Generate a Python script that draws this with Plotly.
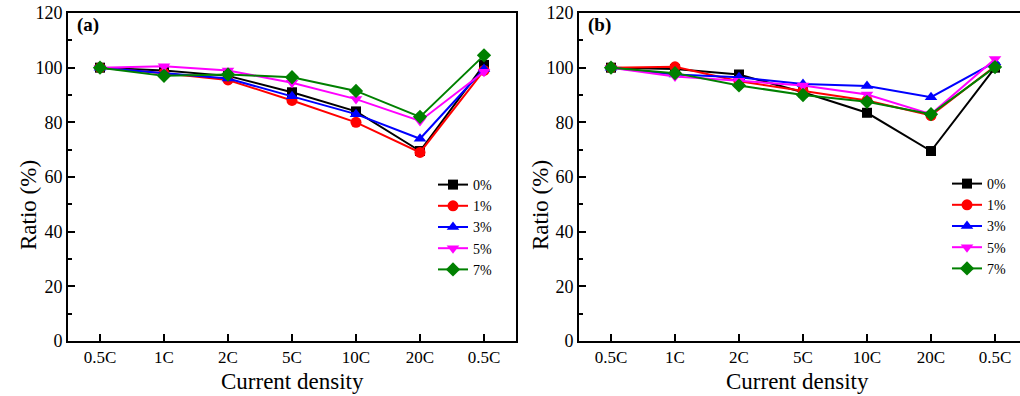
import plotly.graph_objects as go

categories = ["0.5C", "1C", "2C", "5C", "10C", "20C", "0.5C"]
series_names = ["0%", "1%", "3%", "5%", "7%"]

a_0 = [100, 99, 97, 91, 84, 69.5, 101]
a_1 = [100, 98, 95.5, 88, 80, 69, 99]
a_3 = [100, 98, 96, 89.5, 83, 74, 99.5]
a_5 = [100, 100.5, 99, 94.5, 88.5, 80.5, 98.5]
a_7 = [100, 97, 97.5, 96.5, 91.5, 82, 104.5]

b_0 = [100, 99.5, 97.5, 91, 83.5, 69.5, 100]
b_1 = [100, 100.3, 95, 91.5, 88, 82.5, 100.5]
b_3 = [100, 97.5, 96.5, 94, 93.3, 89.2, 102]
b_5 = [100, 96.8, 95.2, 93.5, 90.2, 83, 103.2]
b_7 = [100, 98, 93.5, 90, 87.5, 83, 100.2]

colors = ["#000000", "#ff0000", "#0000ff", "#ff00ff", "#008000"]
symbols = ["square", "circle", "triangle-up", "triangle-down", "diamond"]
msizes = [10, 11, 11, 11, 11]

FONT = '"Liberation Serif", "Times New Roman", serif'
W, H = 1020, 396

xpos = list(range(len(categories)))

fig = go.Figure()
for panel, data, xa, ya, leg in [
    ("a", [a_0, a_1, a_3, a_5, a_7], "x", "y", "legend"),
    ("b", [b_0, b_1, b_3, b_5, b_7], "x2", "y2", "legend2"),
]:
    for name, vals, c, s, ms in zip(series_names, data, colors, symbols, msizes):
        fig.add_trace(go.Scatter(
            x=xpos, y=vals, name=name, mode="lines+markers",
            line=dict(color=c, width=2),
            marker=dict(symbol=s, size=ms, color=c),
            xaxis=xa, yaxis=ya, legend=leg, cliponaxis=False,
        ))

ydom = [(H - 341) / H, (H - 13) / H]
axfont = dict(family=FONT, size=17, color="black")

def xaxis_cfg(domain, rng, mirror):
    return dict(
        domain=domain, range=rng, tickmode="array", tickvals=xpos, ticktext=categories,
        ticks="inside", ticklen=7, tickwidth=1.5, tickcolor="black",
        showline=True, linecolor="black", linewidth=2, mirror=mirror,
        showgrid=False, zeroline=False, tickfont=axfont, automargin=False,
    )

def yaxis_cfg(domain, anchor, mirror):
    return dict(
        domain=domain, range=[0, 120], dtick=20, anchor=anchor,
        ticks="inside", ticklen=7, tickwidth=1.5, tickcolor="black",
        minor=dict(ticks="inside", ticklen=4, dtick=10, tickwidth=1.5, tickcolor="black"),
        showline=True, linecolor="black", linewidth=2, mirror=mirror,
        showgrid=False, zeroline=False, tickfont=dict(family=FONT, size=18, color="black"),
        automargin=False,
    )

leg_common = dict(
    font=dict(family=FONT, size=14, color="black"),
    bgcolor="rgba(0,0,0,0)", borderwidth=0, xanchor="left", yanchor="top",
    tracegroupgap=0, itemwidth=30,
)

def ann(text, x, y, size, angle=0, xanchor="center", yanchor="middle"):
    return dict(text=text, x=x / W, y=(H - y) / H, xref="paper", yref="paper",
                xanchor=xanchor, yanchor=yanchor, showarrow=False, textangle=angle,
                font=dict(family=FONT, size=size, color="black"))

fig.update_layout(
    width=W, height=H, margin=dict(l=0, r=0, t=0, b=0, autoexpand=False),
    paper_bgcolor="white", plot_bgcolor="white",
    xaxis=xaxis_cfg([68 / W, 516 / W], [-0.5, 6.5], True),
    yaxis=yaxis_cfg(ydom, "x", True),
    xaxis2=xaxis_cfg([579 / W, 1.0], [-0.5, (1020 - 579) / 64 - 0.5], True),
    yaxis2=yaxis_cfg(ydom, "x2", False),
    legend=dict(x=433 / W, y=(H - 169) / H, **leg_common),
    legend2=dict(x=947 / W, y=(H - 168) / H, **leg_common),
    showlegend=True,
    annotations=[
        ann("<b>(a)</b>", 75, 12, 19, xanchor="left", yanchor="top"),
        ann("<b>(b)</b>", 586, 12, 19, xanchor="left", yanchor="top"),
        ann("Ratio (%)", 28, 205, 23, angle=-90),
        ann("Ratio (%)", 540, 205, 23, angle=-90),
        ann("Current density", 292, 381, 23),
        ann("Current density", 797, 381, 23),
    ],
)

fig.write_html("out.html", config={"displayModeBar": False},
               post_script="document.body.style.margin='0';document.body.style.overflow='hidden';")
